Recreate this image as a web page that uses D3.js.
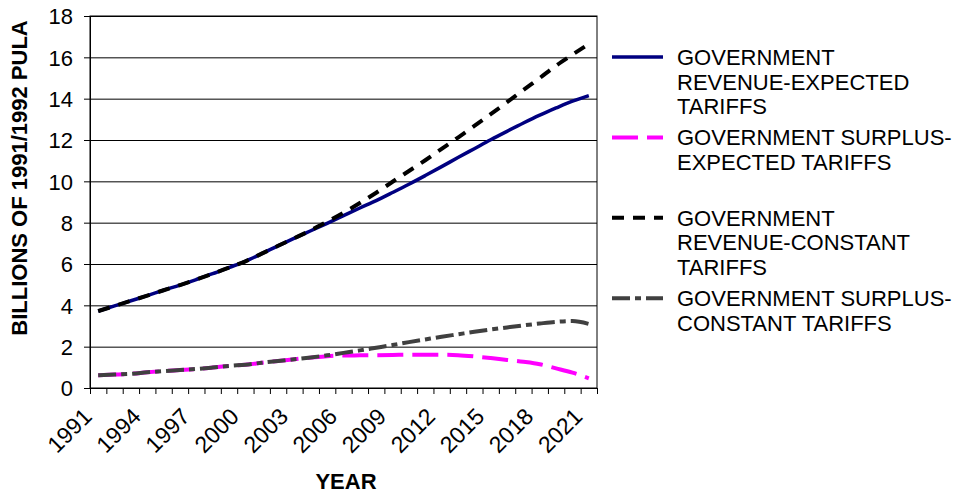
<!DOCTYPE html>
<html>
<head>
<meta charset="utf-8">
<script src="https://cdn.jsdelivr.net/npm/d3@7"></script>
<style>
	body { margin:0; background:#fff; }
	text { font-family: "Liberation Sans", Arial, sans-serif; fill:#000; }
</style>
</head>
<body>
<svg id="chart" width="954" height="493"></svg>
<script>

var years = ["1991","1992","1993","1994","1995","1996","1997","1998","1999","2000",
	"2001","2002","2003","2004","2005","2006","2007","2008","2009","2010",
	"2011","2012","2013","2014","2015","2016","2017","2018","2019","2020","2021"]

var tick_years = ["1991","1994","1997","2000","2003","2006","2009","2012","2015","2018","2021"]

var y_ticks = [0,2,4,6,8,10,12,14,16,18]

var rev_expected = [3.72,3.97,4.22,4.47,4.73,4.98,5.25,5.53,5.83,6.13,
	6.5,6.88,7.25,7.61,7.97,8.34,8.71,9.07,9.46,9.86,
	10.28,10.71,11.15,11.58,12.01,12.42,12.82,13.2,13.55,13.88,14.15]

var surplus_expected = [0.62,0.65,0.69,0.76,0.82,0.87,0.92,0.99,1.07,1.13,
	1.22,1.31,1.39,1.47,1.54,1.57,1.58,1.59,1.6,1.61,
	1.61,1.61,1.59,1.53,1.45,1.36,1.27,1.15,0.95,0.74,0.47]

var rev_constant = [3.72,3.97,4.22,4.47,4.73,4.98,5.25,5.53,5.83,6.13,
	6.5,6.88,7.25,7.63,8.05,8.48,8.95,9.45,9.98,10.5,
	11.02,11.57,12.12,12.68,13.25,13.83,14.42,15.0,15.6,16.13,16.65]

var surplus_constant = [0.62,0.65,0.69,0.76,0.82,0.87,0.92,0.99,1.07,1.13,
	1.22,1.31,1.39,1.48,1.58,1.7,1.82,1.95,2.08,2.22,
	2.35,2.48,2.6,2.72,2.83,2.93,3.03,3.12,3.2,3.24,3.1]

var legend_labels = [
	["GOVERNMENT","REVENUE-EXPECTED","TARIFFS"],
	["GOVERNMENT SURPLUS-","EXPECTED TARIFFS"],
	["GOVERNMENT","REVENUE-CONSTANT","TARIFFS"],
	["GOVERNMENT SURPLUS-","CONSTANT TARIFFS"]
]

var series = [
	{values: rev_expected, color: "#000080", width: 3.5, dash: null},
	{values: surplus_expected, color: "#ff00ff", width: 4, dash: "26,9"},
	{values: rev_constant, color: "#000000", width: 4, dash: "12,9"},
	{values: surplus_constant, color: "#404040", width: 4, dash: "18,5,6,5"}
]

var plot_left = 90, plot_right = 597, plot_top = 16, plot_bottom = 388

var svg = d3.select("#chart")

var x = d3.scaleBand()
	.domain(years)
	.range([plot_left, plot_right])

var x_idx = d3.scaleLinear()
	.domain([0, years.length])
	.range([plot_left, plot_right])

var y = d3.scaleLinear()
	.domain([0, 18])
	.range([plot_bottom, plot_top])

// grid
var grid = svg.append("g")
	.attr("transform", "translate(" + plot_left + ",0)")
	.call(d3.axisLeft(y).tickValues(y_ticks).tickSize(-(plot_right - plot_left)).tickFormat(""))
grid.select(".domain").remove()
grid.selectAll("line").attr("stroke", "#000")

svg.append("rect")
	.attr("x", plot_left)
	.attr("y", plot_top)
	.attr("width", plot_right - plot_left)
	.attr("height", plot_bottom - plot_top)
	.attr("fill", "none")
	.attr("stroke", "#000")

// y axis
var yaxis = svg.append("g")
	.attr("transform", "translate(" + plot_left + ",0)")
	.call(d3.axisLeft(y).tickValues(y_ticks).tickSize(6).tickSizeOuter(0).tickPadding(11))
yaxis.selectAll("text")
	.style("font-size", "22px")
	.attr("dy", "0.35em")
yaxis.selectAll("line, path").attr("stroke", "#000")

// x axis tick marks on category edges
var xaxis = svg.append("g")
	.attr("transform", "translate(0," + plot_bottom + ")")
	.call(d3.axisBottom(x_idx).tickValues(d3.range(years.length + 1)).tickSize(6).tickSizeOuter(0).tickFormat(""))
xaxis.selectAll("line, path").attr("stroke", "#000")

svg.selectAll(".xlab")
	.data(tick_years)
	.enter()
	.append("text")
	.attr("class", "xlab")
	.attr("text-anchor", "end")
	.style("font-size", "23px")
	.attr("transform", function(d){
		return "translate(" + (x(d) + x.bandwidth() / 2 - 5) + ",418) rotate(-45)"
	})
	.text(function(d){ return d })

// titles
svg.append("text")
	.attr("transform", "translate(27,178) rotate(-90)")
	.attr("text-anchor", "middle")
	.style("font-size", "22px")
	.style("font-weight", "bold")
	.text("BILLIONS OF 1991/1992 PULA")

svg.append("text")
	.attr("x", 346)
	.attr("y", 489)
	.attr("text-anchor", "middle")
	.style("font-size", "22px")
	.style("font-weight", "bold")
	.text("YEAR")

// lines
var line = d3.line()
	.x(function(d, i){ return x(years[i]) + x.bandwidth() / 2 })
	.y(function(d){ return y(d) })
	.curve(d3.curveMonotoneX)

svg.selectAll(".series")
	.data(series)
	.enter()
	.append("path")
	.attr("class", "series")
	.attr("d", function(d){ return line(d.values) })
	.attr("fill", "none")
	.attr("stroke", function(d){ return d.color })
	.attr("stroke-width", function(d){ return d.width })
	.attr("stroke-dasharray", function(d){ return d.dash })

// legend
var leg = svg.selectAll(".leg")
	.data(series)
	.enter()
	.append("g")
	.attr("class", "leg")
	.attr("transform", function(d, i){ return "translate(0," + (57 + i * 80.4) + ")" })

leg.append("line")
	.attr("x1", 612)
	.attr("x2", 663)
	.attr("stroke", function(d){ return d.color })
	.attr("stroke-width", function(d){ return d.width })
	.attr("stroke-dasharray", function(d){ return d.dash })

leg.append("text")
	.style("font-size", "22px")
	.selectAll("tspan")
	.data(function(d, i){ return legend_labels[i] })
	.enter()
	.append("tspan")
	.attr("x", 677)
	.attr("y", function(d, k){ return 8 + k * 24.7 })
	.text(function(d){ return d })

</script>
</body>
</html>
